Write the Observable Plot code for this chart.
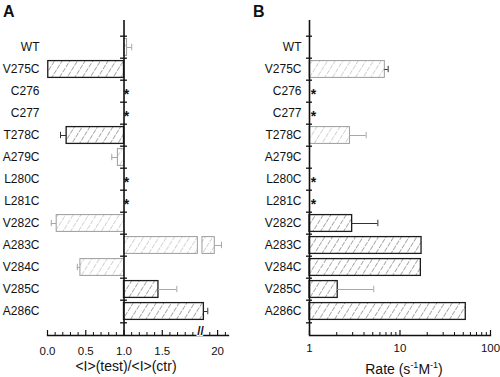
<!DOCTYPE html>
<html><head><meta charset="utf-8">
<script src="https://cdn.jsdelivr.net/npm/d3@7"></script>
<script src="https://cdn.jsdelivr.net/npm/@observablehq/plot@0.6"></script>
<style>
body{margin:0;background:#fff;}
#wrap{position:relative;width:500px;height:377px;font-family:"Liberation Sans",Arial,Helvetica,sans-serif;color:#111;overflow:hidden;}
#wrap svg{position:absolute;top:0;}
.letter{position:absolute;font-weight:bold;font-size:16px;line-height:16px;}
.title{position:absolute;font-size:14px;line-height:16px;white-space:nowrap;transform:translateX(-50%);}
.title sup{font-size:9px;vertical-align:6px;line-height:0;}
</style></head>
<body><div id="wrap"></div>
<script>
// ---------- data ----------
const rows = ["WT","V275C","C276","C277","T278C","A279C","L280C","L281C","V282C","A283C","V284C","V285C","A286C"];
// Panel A: <I>(test)/<I>(ctr)
const ratioA    = [1.04, 0.01, null, null, 0.25, 0.92, null, null, 0.12, 19.82, 0.43, 1.45, 19.12];
const ratioErrA = [1.10, null, null, null, 0.17, 0.84, null, null, 0.05, 20.25, 0.39, 1.69, 19.37];
const starsA = ["C276","C277","L280C","L281C"];
const brokenA = ["A283C"];
const xTicksA = [0, 0.5, 1, 1.5, 20];
const xTickLabelsA = ["0.0","0.5","1.0","1.5","20"];
const xMinorA = [0.1,0.2,0.3,0.4,0.6,0.7,0.8,0.9,1.1,1.2,1.3,1.4,1.6,1.7,1.8,1.9,19.5,20.5];
const breakA = [1.98, 19]; // axis break
// Panel B: Rate (s-1 M-1)
const rateB    = [null, 6.8, null, null, 2.8, null, null, null, 2.96, 17.3, 17.0, 2.05, 53.3];
const rateErrB = [null, 7.4, null, null, 4.23, null, null, null, 5.69, null, null, 5.13, null];
const starsB = ["C276","C277","L280C","L281C"];
const xTicksB = [1, 10, 100];
const xTickLabelsB = ["1","10","100"];
const xMinorB = [2,3,4,5,6,7,8,9,20,30,40,50,60,70,80,90];

// ---------- styles ----------
const DARK = "#1c1c1c", LIGHT = "#9c9c9c";
const darkBarsA = ["V275C","T278C","V285C","A286C"];
const darkErrA = ["T278C","A286C"];
const darkBarsB = ["V282C","A283C","V284C","V285C","A286C"];
const darkErrB = ["V275C","V282C"];

const Y0 = 32, Y1 = 326;
const bw = (Y1 - Y0) / rows.length;

function hatchDefs(svg, prefix) {
  d3.select(svg).insert("defs", ":first-child").html(`
    <pattern id="${prefix}-dark" patternUnits="userSpaceOnUse" width="6.5" height="6" patternTransform="rotate(32)">
      <line x1="0" y1="0" x2="0" y2="6" stroke="#3a3a3a" stroke-width="0.9" stroke-dasharray="4 1.2"/>
    </pattern>
    <pattern id="${prefix}-light" patternUnits="userSpaceOnUse" width="6.5" height="6" patternTransform="rotate(32)">
      <line x1="0" y1="0" x2="0" y2="6" stroke="#9a9a9a" stroke-width="0.9" stroke-dasharray="4 1.2"/>
    </pattern>`);
}

function panel({prefix, vals, errs, stars, darkBars, darkErr, x, marginLeft, marginRight, tickHalf, ticks, tickLabels, minor, tickPadding, starDx, extra = [], split = null}) {
  const data = rows.map((r, i) => ({row: r, v: vals[i], e: errs[i]}));
  let bars = data.filter(d => d.v != null).map(d => ({row: d.row, a: 1, b: d.v}));
  if (split) {
    bars = bars.flatMap(d => split.rows.includes(d.row)
      ? [{row: d.row, a: d.a, b: split.lo}, {row: d.row, a: split.hi, b: d.b}] : [d]);
  }
  const errData = data.filter(d => d.e != null);
  const isDark = r => darkBars.includes(r);
  const errDark = r => darkErr.includes(r);
  const svg = Plot.plot({
    width: 250, height: 377,
    marginLeft, marginRight, marginTop: 20, marginBottom: 42,
    style: {fontFamily: "Liberation Sans, Arial, sans-serif", fontSize: "12px", color: "#111", background: "transparent"},
    x: {...x, label: null},
    y: {type: "band", domain: rows, range: [Y0, Y1], padding: 0, label: null},
    marks: [
      Plot.barX(bars, {y: "row", x1: "a", x2: "b", insetTop: 2.6, insetBottom: 2.6,
        fill: d => isDark(d.row) ? `url(#${prefix}-dark)` : `url(#${prefix}-light)`,
        stroke: d => isDark(d.row) ? DARK : LIGHT, strokeWidth: d => isDark(d.row) ? 1.3 : 1}),
      Plot.ruleY(errData, {y: "row", x1: "v", x2: "e", stroke: d => errDark(d.row) ? "#333" : "#a8a8a8", strokeWidth: 1}),
      Plot.tickX(errData, {x: "e", y: "row", insetTop: bw/2 - 3.5, insetBottom: bw/2 - 3.5, stroke: d => errDark(d.row) ? "#333" : "#a8a8a8", strokeWidth: 1}),
      Plot.frame({anchor: "bottom", stroke: "#111", strokeWidth: 1.3}),
      Plot.ruleX([1], {stroke: "#111", strokeWidth: 1.6}),
      Plot.ruleY(rows, {y: d => d, x1: tickHalf[0], x2: tickHalf[1], dy: -bw/2, stroke: "#111", strokeWidth: 1.3}),
      Plot.ruleY([rows[rows.length - 1]], {y: d => d, x1: tickHalf[0], x2: tickHalf[1], dy: bw/2, stroke: "#111", strokeWidth: 1.3}),
      Plot.text(stars, {x: 1, y: d => d, text: () => "*", dx: starDx, dy: 3, fontSize: 14, fontWeight: "bold", fill: "#111"}),
      Plot.axisY({tickSize: 0, tickPadding: 8, fontSize: 12, label: null}),
      Plot.axisX({ticks: ticks, tickSize: 5, dy: -5, tickFormat: () => "", strokeWidth: 1.2, label: null}),
      Plot.axisX({ticks: minor, tickSize: 3, dy: -3, tickFormat: () => "", strokeWidth: 1, label: null}),
      Plot.axisX({ticks: ticks, tickSize: 0, tickPadding, fontSize: 11.5, tickFormat: d => tickLabels[ticks.indexOf(d)], label: null}),
      ...extra
    ]
  });
  hatchDefs(svg, prefix);
  return svg;
}

const wrap = document.getElementById("wrap");

const svgA = panel({
  prefix: "ha", vals: ratioA, errs: ratioErrA, stars: starsA, darkBars: darkBarsA, darkErr: darkErrA,
  x: {type: "linear", domain: [0, breakA[0], breakA[1], 20.7], range: [47, 198.5, 201.5, 228]},
  marginLeft: 47, marginRight: 22, tickHalf: [0.955, 1.045],
  ticks: xTicksA, tickLabels: xTickLabelsA, minor: xMinorA, tickPadding: 11, starDx: 2.5,
  split: {rows: brokenA, lo: 1.965, hi: 19.03},
  extra: [Plot.text([(breakA[0] + breakA[1]) / 2], {x: d => d, frameAnchor: "bottom", text: () => "//", fontSize: 12, fontWeight: "bold", stroke: "white", strokeWidth: 2, fill: "#111", dy: -1})]
});
svgA.style.left = "0px";
wrap.appendChild(svgA);

const svgB = panel({
  prefix: "hb", vals: rateB, errs: rateErrB, stars: starsB, darkBars: darkBarsB, darkErr: darkErrB,
  x: {type: "log", domain: [1, 100], range: [309 - 250, 490 - 250]},
  marginLeft: 59, marginRight: 10, tickHalf: [1/1.08, 1.08],
  ticks: xTicksB, tickLabels: xTickLabelsB, minor: xMinorB, tickPadding: 8, starDx: 4
});
svgB.style.left = "250px";
wrap.appendChild(svgB);

// panel letters and axis titles
wrap.insertAdjacentHTML("beforeend", `
  <div class="letter" style="left:3px;top:4px;">A</div>
  <div class="letter" style="left:253px;top:4px;">B</div>
  <div class="title" style="left:126px;top:358px;">&lt;I&gt;(test)/&lt;I&gt;(ctr)</div>
  <div class="title" style="left:404px;top:361px;">Rate (s<sup>-1</sup>M<sup>-1</sup>)</div>
`);
</script>
</body></html>
